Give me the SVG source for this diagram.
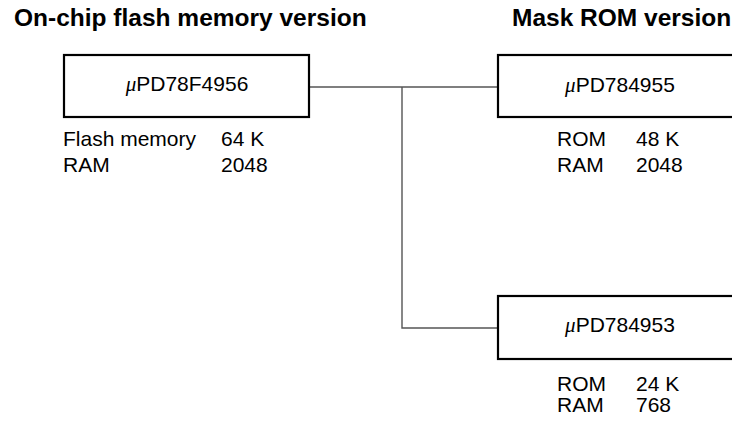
<svg xmlns="http://www.w3.org/2000/svg" width="732" height="421" viewBox="0 0 732 421">
<style>
.title{font-family:"Liberation Sans",Arial,sans-serif;font-weight:bold;font-size:24.5px;fill:#000}
.t{font-family:"Liberation Sans",Arial,sans-serif;font-size:21px;fill:#000}
.mu{font-family:"Liberation Serif","Times New Roman",serif;font-style:italic}
.box{fill:#fff;stroke:#000;stroke-width:2.2}
.conn{fill:none;stroke:#555;stroke-width:1.4}
</style>
<rect width="732" height="421" fill="#fff"/>
<text class="title" x="14" y="26">On-chip flash memory version</text>
<text class="title" x="512" y="26">Mask ROM version</text>
<g id="connectors">
<path class="conn" d="M310 87 H497"/>
<path class="conn" d="M402 87 V328 H497"/>
</g>
<g id="flash">
<rect class="box" x="64" y="55" width="245" height="62"/>
<text class="t" x="187" y="91" text-anchor="middle"><tspan class="mu">μ</tspan>PD78F4956</text>
<text class="t" x="63" y="146">Flash memory</text>
<text class="t" x="221" y="146">64 K</text>
<text class="t" x="63" y="172">RAM</text>
<text class="t" x="221" y="172">2048</text>
</g>
<g id="rom1">
<rect class="box" x="498" y="55" width="245" height="62"/>
<text class="t" x="620" y="92" text-anchor="middle"><tspan class="mu">μ</tspan>PD784955</text>
<text class="t" x="557" y="146">ROM</text>
<text class="t" x="636" y="146">48 K</text>
<text class="t" x="557" y="172">RAM</text>
<text class="t" x="636" y="172">2048</text>
</g>
<g id="rom2">
<rect class="box" x="498" y="296" width="245" height="63"/>
<text class="t" x="620" y="332" text-anchor="middle"><tspan class="mu">μ</tspan>PD784953</text>
<text class="t" x="557" y="391">ROM</text>
<text class="t" x="636" y="391">24 K</text>
<text class="t" x="557" y="412">RAM</text>
<text class="t" x="636" y="412">768</text>
</g>
</svg>
